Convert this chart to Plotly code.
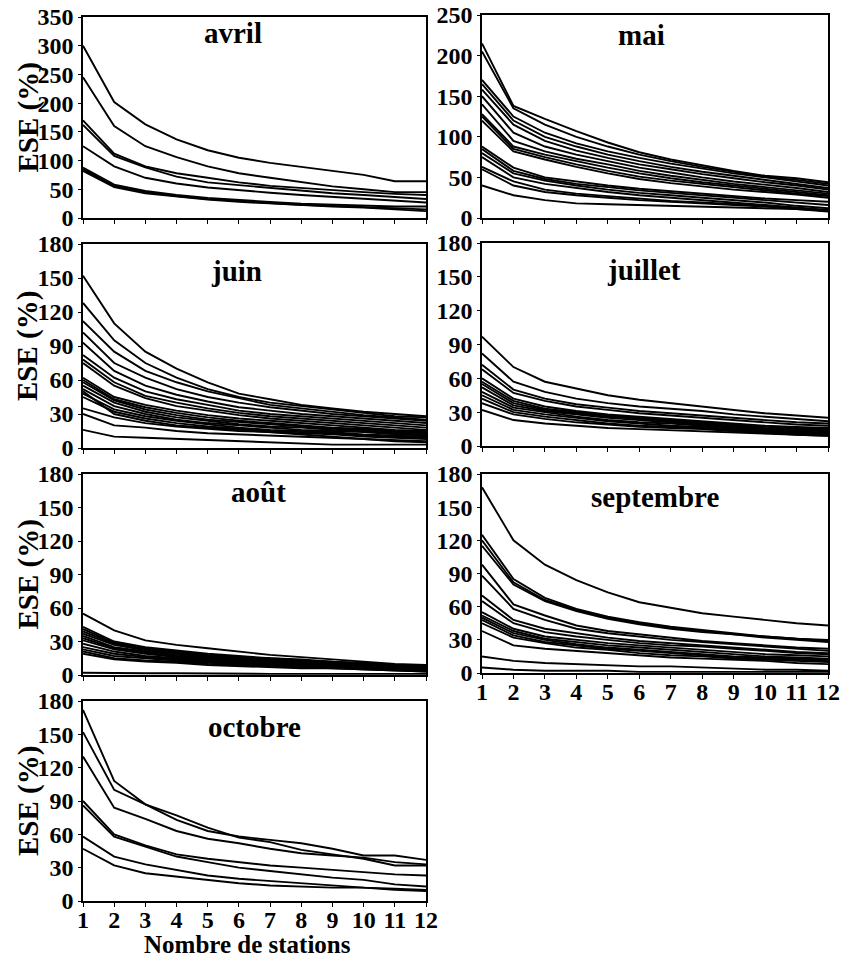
import plotly.graph_objects as go

stations = list(range(1, 13))

avril = [
    [300, 202, 163, 137, 118, 105, 96, 89, 81, 75, 64, 64],
    [245, 160, 125, 106, 90, 78, 70, 62, 55, 50, 45, 45],
    [170, 112, 90, 78, 70, 62, 56, 52, 48, 45, 42, 40],
    [162, 108, 88, 72, 62, 57, 52, 47, 43, 40, 36, 33],
    [125, 90, 70, 60, 53, 48, 44, 40, 37, 33, 30, 27],
    [88, 58, 47, 40, 35, 31, 28, 25, 23, 21, 20, 20],
    [85, 56, 45, 38, 33, 29, 26, 23, 21, 19, 18, 15],
    [82, 54, 43, 37, 32, 28, 25, 22, 20, 18, 15, 12],
]

mai = [
    [215, 138, 122, 107, 93, 81, 72, 65, 58, 52, 49, 44],
    [205, 135, 115, 100, 88, 78, 70, 63, 57, 51, 47, 42],
    [170, 125, 105, 92, 82, 74, 67, 61, 55, 50, 45, 40],
    [165, 120, 100, 88, 78, 70, 63, 57, 52, 47, 42, 37],
    [158, 115, 95, 83, 74, 66, 60, 54, 49, 44, 40, 35],
    [150, 105, 88, 78, 70, 62, 56, 50, 45, 41, 37, 32],
    [140, 95, 82, 73, 66, 58, 52, 47, 42, 38, 34, 30],
    [128, 88, 78, 70, 62, 55, 49, 44, 40, 36, 32, 28],
    [125, 85, 75, 66, 58, 51, 46, 42, 38, 34, 30, 27],
    [120, 82, 72, 63, 55, 48, 43, 39, 35, 32, 29, 25],
    [88, 62, 50, 45, 40, 36, 33, 30, 27, 24, 22, 20],
    [85, 58, 48, 42, 38, 34, 31, 28, 25, 22, 19, 16],
    [80, 55, 46, 40, 35, 31, 28, 25, 22, 19, 15, 12],
    [75, 50, 42, 37, 32, 28, 25, 22, 19, 16, 13, 10],
    [63, 45, 35, 30, 27, 24, 21, 19, 17, 15, 12, 9],
    [60, 40, 32, 28, 25, 22, 20, 18, 16, 14, 11, 8],
    [40, 28, 22, 18, 17, 16, 15, 14, 13, 12, 11, 9],
]

juin = [
    [152, 110, 85, 70, 58, 48, 43, 38, 35, 32, 30, 28],
    [128, 95, 75, 62, 52, 45, 40, 37, 34, 31, 28, 27],
    [112, 85, 68, 58, 50, 44, 38, 35, 32, 29, 27, 25],
    [102, 75, 62, 52, 45, 40, 36, 33, 30, 28, 26, 24],
    [93, 68, 55, 47, 41, 36, 33, 30, 28, 26, 24, 22],
    [82, 62, 50, 43, 38, 33, 30, 28, 26, 24, 22, 20],
    [78, 58, 46, 40, 35, 31, 28, 26, 24, 22, 20, 18],
    [75, 55, 44, 37, 33, 29, 26, 24, 22, 20, 18, 16],
    [62, 45, 38, 33, 29, 26, 24, 22, 20, 18, 16, 15],
    [60, 43, 36, 31, 27, 24, 22, 20, 18, 17, 15, 14],
    [58, 42, 34, 29, 25, 23, 21, 19, 17, 16, 14, 13],
    [55, 40, 32, 27, 24, 21, 19, 18, 16, 15, 13, 12],
    [52, 37, 30, 25, 22, 20, 18, 16, 15, 14, 12, 11],
    [50, 30, 24, 20, 18, 16, 14, 12, 10, 8, 6, 5],
    [48, 34, 28, 24, 21, 18, 16, 15, 14, 12, 11, 10],
    [45, 32, 26, 22, 19, 17, 15, 14, 13, 11, 10, 9],
    [35, 27, 22, 19, 17, 15, 14, 13, 12, 10, 9, 8],
    [30, 20, 18, 15, 13, 12, 11, 10, 9, 8, 7, 6],
    [16, 10, 9, 8, 7, 6, 5, 4, 3, 3, 3, 3],
]

juillet = [
    [97, 70, 57, 51, 45, 41, 38, 35, 32, 29, 27, 25],
    [82, 57, 48, 42, 38, 35, 33, 31, 28, 26, 24, 22],
    [72, 50, 42, 37, 34, 31, 29, 27, 25, 23, 21, 20],
    [68, 47, 40, 35, 32, 29, 27, 25, 23, 21, 19, 18],
    [60, 42, 35, 31, 28, 26, 24, 22, 20, 18, 17, 16],
    [57, 40, 33, 30, 27, 25, 23, 21, 19, 17, 16, 15],
    [55, 38, 32, 29, 26, 24, 22, 20, 18, 16, 15, 14],
    [52, 36, 31, 28, 25, 23, 21, 19, 17, 15, 14, 13],
    [48, 34, 30, 26, 23, 21, 20, 18, 16, 14, 13, 12],
    [45, 32, 28, 25, 22, 20, 18, 17, 15, 13, 12, 11],
    [42, 30, 26, 23, 20, 18, 17, 16, 14, 12, 11, 10],
    [38, 28, 24, 21, 19, 17, 16, 15, 13, 12, 10, 9],
    [32, 23, 20, 18, 16, 15, 14, 13, 12, 11, 10, 9],
]

aout = [
    [55, 40, 31, 27, 24, 21, 18, 16, 14, 12, 10, 9],
    [43, 30, 25, 22, 19, 17, 15, 14, 12, 11, 9, 8],
    [41, 29, 24, 21, 18, 16, 15, 13, 12, 10, 9, 8],
    [39, 28, 23, 20, 17, 15, 14, 13, 11, 10, 9, 7],
    [37, 27, 22, 19, 17, 15, 13, 12, 11, 10, 8, 7],
    [35, 25, 21, 18, 16, 14, 13, 12, 11, 9, 8, 7],
    [33, 24, 20, 17, 15, 13, 12, 11, 10, 9, 8, 6],
    [31, 23, 19, 16, 14, 13, 12, 11, 10, 9, 7, 6],
    [28, 21, 17, 15, 13, 12, 11, 10, 9, 8, 7, 5],
    [25, 19, 16, 14, 12, 11, 10, 9, 8, 7, 6, 5],
    [23, 17, 15, 13, 11, 10, 9, 8, 7, 6, 5, 4],
    [21, 15, 13, 12, 10, 9, 8, 7, 6, 5, 4, 3],
    [19, 14, 12, 11, 9, 8, 7, 6, 6, 5, 4, 3],
    [2, 1.5, 1.5, 1.5, 1.2, 1.2, 1, 1, 1, 1, 1, 1],
]

septembre = [
    [168, 120, 98, 84, 73, 64, 59, 54, 51, 48, 45, 43],
    [125, 85, 68, 58, 51, 46, 42, 39, 36, 33, 31, 30],
    [120, 82, 66, 57, 50, 45, 41, 38, 35, 33, 31, 29],
    [115, 80, 65, 56, 49, 44, 40, 37, 35, 32, 30, 28],
    [98, 62, 52, 43, 38, 35, 32, 29, 27, 25, 23, 22],
    [88, 58, 48, 40, 36, 33, 30, 28, 26, 24, 22, 20],
    [70, 48, 40, 36, 32, 29, 27, 25, 23, 21, 19, 18],
    [65, 45, 37, 33, 30, 27, 25, 24, 22, 20, 18, 17],
    [55, 40, 33, 30, 27, 25, 23, 21, 19, 17, 16, 15],
    [52, 38, 31, 28, 25, 23, 21, 19, 17, 15, 14, 13],
    [50, 36, 30, 26, 23, 21, 19, 17, 15, 14, 13, 12],
    [48, 34, 28, 25, 22, 20, 18, 16, 14, 13, 12, 11],
    [45, 32, 27, 23, 21, 18, 16, 15, 13, 12, 11, 10],
    [38, 25, 22, 20, 18, 16, 14, 13, 12, 11, 9, 8],
    [15, 11, 9, 8, 7, 6, 6, 5, 4, 3, 3, 2],
    [5, 3, 2, 2, 2, 1, 1, 1, 1, 1, 1, 1],
]

octobre = [
    [172, 108, 87, 77, 66, 57, 53, 46, 42, 38, 32, 32],
    [152, 100, 87, 73, 63, 58, 55, 52, 47, 41, 41, 37],
    [130, 84, 74, 63, 56, 52, 47, 43, 41, 39, 35, 33],
    [90, 60, 50, 42, 38, 35, 32, 30, 28, 26, 24, 23],
    [86, 58, 49, 40, 35, 30, 27, 24, 21, 19, 15, 13],
    [58, 40, 33, 28, 23, 20, 18, 16, 14, 12, 11, 10],
    [47, 32, 25, 22, 19, 16, 14, 13, 12, 12, 10, 9],
]

month_names = ["avril", "mai", "juin", "juillet", "août", "septembre", "octobre"]
month_data = [avril, mai, juin, juillet, aout, septembre, octobre]
y_max = [350, 250, 180, 180, 180, 180, 180]
y_step = [50, 50, 30, 30, 30, 30, 30]

W, H = 846, 960
# panel boxes in pixels: (left, right, top, bottom)
boxes = [
    (83, 426, 17, 218),
    (482, 828, 15, 218),
    (83, 426, 244, 448),
    (482, 828, 243, 446),
    (83, 426, 474, 675),
    (482, 828, 474, 673),
    (83, 426, 701, 901),
]
title_pos = [(233, 33), (641, 35), (236, 271), (644, 270), (258, 492), (655, 497), (254, 727)]
show_xlabels = [False, False, False, False, False, True, True]

FONT = "Liberation Serif"
fig = go.Figure()
layout = dict(
    width=W, height=H,
    margin=dict(l=0, r=0, t=0, b=0, autoexpand=False),
    paper_bgcolor="white", plot_bgcolor="white",
    showlegend=False,
    font=dict(family=FONT, size=23, color="black"),
)
annotations = []

for i, (name, curves) in enumerate(zip(month_names, month_data)):
    n = i + 1
    xa = "x" if n == 1 else f"x{n}"
    ya = "y" if n == 1 else f"y{n}"
    for c in curves:
        fig.add_trace(go.Scatter(x=stations, y=c, mode="lines", xaxis=xa, yaxis=ya,
                                 line=dict(color="black", width=1.9), hoverinfo="skip"))
    l, r, t, b = boxes[i]
    xkey = "xaxis" if n == 1 else f"xaxis{n}"
    ykey = "yaxis" if n == 1 else f"yaxis{n}"
    layout[xkey] = dict(
        domain=[l / W, r / W], anchor=ya, range=[1, 12], automargin=False,
        tickmode="array", tickvals=stations, ticktext=[str(s) for s in stations],
        showticklabels=show_xlabels[i], ticks="outside", ticklen=4, tickcolor="black",
        ticklabelstandoff=-8,
        showline=True, linecolor="black", linewidth=1.5, mirror=True,
        showgrid=False, zeroline=False,
        tickfont=dict(family=FONT, size=24, color="black", weight="bold"),
    )
    layout[ykey] = dict(
        domain=[1 - b / H, 1 - t / H], anchor=xa, range=[0, y_max[i]], automargin=False,
        tickmode="linear", tick0=0, dtick=y_step[i],
        ticks="outside", ticklen=3, tickcolor="black",
        showline=True, linecolor="black", linewidth=1.5, mirror=True,
        showgrid=False, zeroline=False,
        tickfont=dict(family=FONT, size=24, color="black", weight="bold"),
    )
    tx, ty = title_pos[i]
    annotations.append(dict(text=f"<b>{name}</b>", x=tx / W, y=1 - ty / H, xref="paper", yref="paper",
                            showarrow=False, xanchor="center", yanchor="middle",
                            font=dict(family=FONT, size=29, color="black")))
    if l < 200:
        annotations.append(dict(text="<b>ESE (%)</b>", x=28 / W, y=1 - ((t + b) / 2) / H,
                                xref="paper", yref="paper", showarrow=False, textangle=-90,
                                xanchor="center", yanchor="middle",
                                font=dict(family=FONT, size=29, color="black")))

annotations.append(dict(text="<b>Nombre de stations</b>", x=248 / W, y=1 - 944 / H,
                        xref="paper", yref="paper", showarrow=False,
                        xanchor="center", yanchor="middle",
                        font=dict(family=FONT, size=25, color="black")))
layout["annotations"] = annotations
fig.update_layout(**layout)
fig.write_html("out.html", config={"displayModeBar": False},
               post_script="document.body.style.margin='0';document.body.style.overflow='hidden';")
